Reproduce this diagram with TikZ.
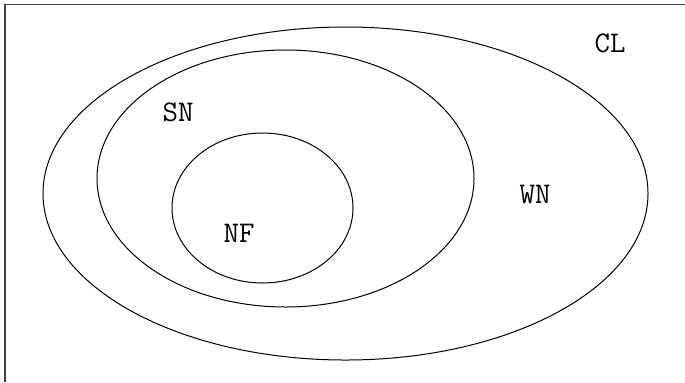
\documentclass[tikz,border=0pt]{standalone}
\usepackage{fontspec}
\begin{document}
\begin{tikzpicture}[x=0.4pt,y=0.4pt,every node/.style={font=\fontsize{12}{14}\selectfont\ttfamily,inner sep=0pt}]
  \useasboundingbox (0,0) rectangle (685,382);
  % Marco
  \draw[black!75,line width=0.5pt] (5,0) -- (5,377.3) -- (685,377.3);

  % Conjuntos
  \draw (345.5,188.5) ellipse [x radius=121pt, y radius=66.6pt];
  \draw (285.5,203.5) ellipse [x radius=75.4pt, y radius=51.4pt];
  \draw (262.5,174) ellipse [x radius=36.2pt, y radius=30pt];

  % Etiquetas
  \node (cl) at (610,339) {CL};
  \node (wn) at (535,187.5) {WN};
  \node (sn) at (178,270) {SN};
  \node (nf) at (239,149) {NF};
\end{tikzpicture}
\end{document}
